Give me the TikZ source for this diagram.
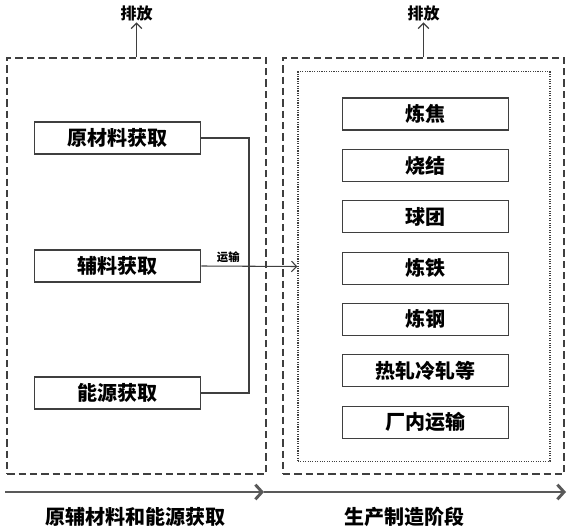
\documentclass[tikz,border=0pt]{standalone}
\usepackage{fontspec}
\setmainfont{Noto Sans CJK SC}
\usepackage{tikz}
\usetikzlibrary{arrows.meta,positioning,calc}
\definecolor{linegrey}{HTML}{3F3F3F}
\definecolor{phasegrey}{HTML}{595959}

\begin{document}
\begin{tikzpicture}[x=0.75pt,y=-0.75pt,
  stagebox/.style={draw=linegrey,line width=1.1pt,dash pattern=on 5.5pt off 3pt,
                   inner sep=0pt},
  innerbox/.style={draw=linegrey,line width=0.8pt,densely dotted,inner sep=0pt},
  procbox/.style={draw=linegrey,line width=0.8pt,minimum width=125pt,minimum height=24pt,
                  inner sep=0pt,font=\fontsize{15}{18}\selectfont\bfseries},
  lbl/.style={font=\fontsize{12}{14}\selectfont\bfseries,inner sep=1pt},
  emit/.style={-{Straight Barb[length=4pt,width=8pt]},line width=1pt,draw=linegrey},
  flow/.style={line width=0.8pt,draw=linegrey},
  phase/.style={-{Straight Barb[length=5pt,width=11pt]},line width=2.2pt,draw=phasegrey}
]
\useasboundingbox (0,0) rectangle (567,528);

% stage frames
\node[stagebox,minimum width=194pt,minimum height=312pt] (stageL) at (136.5,266) {};
\node[stagebox,minimum width=211pt,minimum height=312pt] (stageR) at (423.5,266) {};
\node[innerbox,minimum width=189pt,minimum height=292pt] (inner) at (424,266.5) {};

% emissions
\node[lbl] (emitL) at (136.5,13) {排放};
\node[lbl] (emitR) at (423.5,13) {排放};
\draw[emit] (stageL.north) -- (emitL.south);
\draw[emit] (stageR.north) -- (emitR.south);

% raw material side
\node[procbox] (raw) at (117.5,138) {原材料获取};
\node[procbox] (aux) at (117.5,266) {辅料获取};
\node[procbox] (energy) at (117.5,393) {能源获取};
\coordinate (joint) at (249,266);
\draw[flow] (raw.east) -| (joint) |- (energy.east);
\draw[flow,-{Straight Barb[length=4pt,width=8pt]}] (aux.east) --
  node[pos=0.28,above=1pt,font=\fontsize{8.5}{10}\selectfont\bfseries,inner sep=1pt]{运输}
  (inner.west);

% production steps
\foreach \name/\txt [count=\i from 0] in
  {coke/炼焦,sinter/烧结,pellet/球团,iron/炼铁,steel/炼钢,roll/热轧冷轧等,haul/厂内运输}
  \node[procbox] (\name) at (425.5,114+51.35*\i) {\txt};

% phases
\coordinate (p0) at (5,492);
\coordinate (p1) at (264,492);
\coordinate (p2) at (566,492);
\draw[phase] (p0) -- (p1);
\draw[phase] (p1) -- (p2);
\node[font=\fontsize{15}{18}\selectfont\bfseries] (phaseL) at (135,517) {原辅材料和能源获取};
\node[font=\fontsize{15}{18}\selectfont\bfseries] (phaseR) at (404,517) {生产制造阶段};
\end{tikzpicture}
\end{document}
